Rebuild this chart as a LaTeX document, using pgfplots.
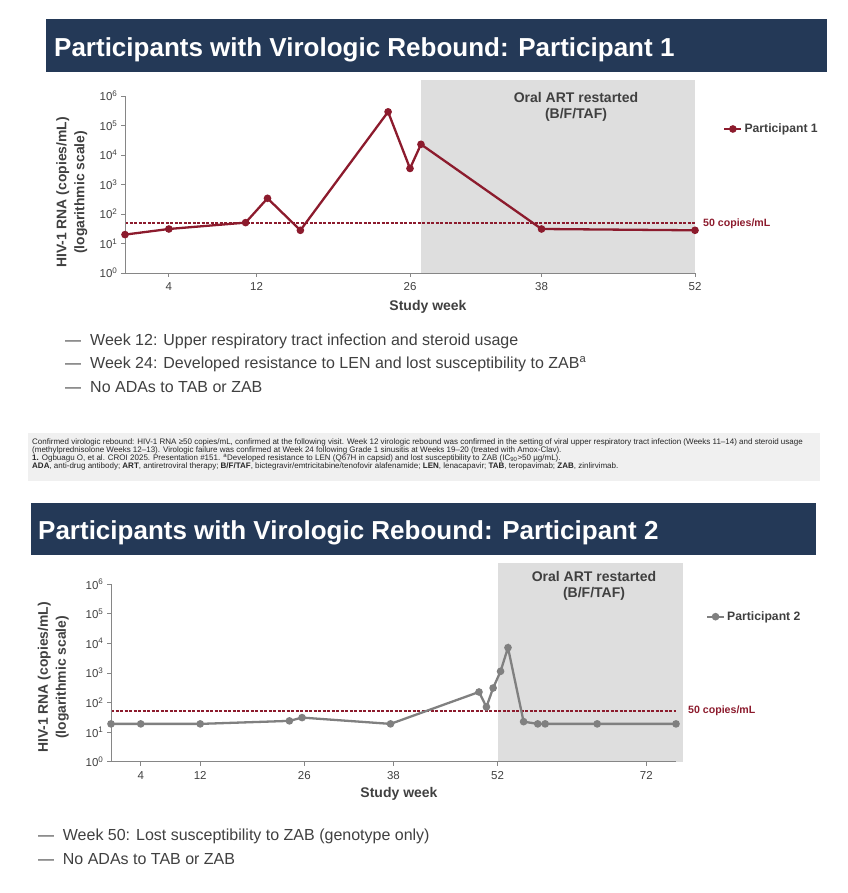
\documentclass[border=0pt]{standalone}
\usepackage{fontspec}
\setmainfont{Liberation Sans}
\usepackage{pgfplots}
\pgfplotsset{compat=1.18}
\definecolor{navy}{RGB}{36,57,87}
\definecolor{dred}{RGB}{140,27,45}
\definecolor{sgrey}{RGB}{128,128,128}
\definecolor{shade}{RGB}{222,222,222}
\definecolor{fbox}{RGB}{240,240,240}
\definecolor{txt}{RGB}{64,64,64}
\definecolor{axgrey}{RGB}{134,134,134}
\newcommand{\fsz}[1]{\fontsize{#1}{#1}\selectfont}
\begin{document}
\begin{tikzpicture}
\path[use as bounding box] (0,0) rectangle (847pt,893pt);
% ---------- Title 1
\fill[navy] (46pt,821pt) rectangle (827pt,873.7pt);
\node[anchor=base west, inner sep=0pt, text=white, font=\fsz{26}\bfseries] at (54pt,836.3pt) {Participants with Virologic Rebound: Participant 1};
% ---------- Axis 1
\begin{axis}[at={(125pt,620pt)}, anchor=south west, width=570pt, height=177pt,
  scale only axis, ymode=log, ymin=1, ymax=1e6, clip=false,
  axis x line=bottom, axis y line=left,
  axis line style={-, draw=axgrey, line width=0.9pt},
  tick style={draw=axgrey, line width=0.9pt},
  major tick length=4pt, tick align=outside,
  ytick={1,10,100,1000,10000,100000,1000000},
  yticklabels={10\textsuperscript{0},10\textsuperscript{1},10\textsuperscript{2},10\textsuperscript{3},10\textsuperscript{4},10\textsuperscript{5},10\textsuperscript{6}},
  yminorticks=false,
  tick label style={font=\fsz{11.5}, text=txt},
  xticklabel style={yshift=-2pt},
  axis on top,
  xmin=0, xmax=52, xtick={4,12,26,38,52}, xticklabels={4,12,26,38,52},
  legend style={at={(1.0491,0.8136)}, anchor=west, draw=none, fill=none, inner sep=0pt,
    font=\fsz{12.2}\bfseries, text=txt}]
\addplot[fill=shade, draw=none, forget plot] coordinates {(27,1) (27,3467000) (52,3467000) (52,1)} -- cycle;
\addplot[draw=dred, line width=1.6pt, dash pattern=on 3pt off 1.5pt, forget plot] coordinates {(0,50) (52,50)};
\addplot[color=dred, line width=2.3pt, mark=*, mark size=2.6pt, mark options={solid}] coordinates {
(0,20) (4,31) (11,51) (13,340) (16,28) (24,290000) (26,3500) (27,23000) (38,31) (52,28)};
\addlegendentry{Participant 1}
\end{axis}
\node[align=center, font=\fsz{14}\bfseries, text=txt, inner sep=0pt] at (576pt,786.3pt) {Oral ART restarted\\[1.5pt](B/F/TAF)};
\node[anchor=west, inner sep=0pt, font=\fsz{10.6}\bfseries, text=dred] at (703pt,669pt) {50 copies/mL};
\node[font=\fsz{14}\bfseries, text=txt, inner sep=0pt] at (428pt,586pt) {Study week};
\node[rotate=90, align=center, font=\fontsize{13.9}{18}\selectfont\bfseries, text=txt, inner sep=0pt] at (71.7pt,700.6pt) {HIV-1 RNA (copies/mL)\\(logarithmic scale)};
% ---------- Bullets 1
\node[anchor=base west, inner sep=0pt, font=\fsz{16}, text=txt] at (65pt,547.3pt) {—};
\node[anchor=base west, inner sep=0pt, font=\fsz{16}, text=txt] at (90pt,547.3pt) {Week 12: Upper respiratory tract infection and steroid usage};
\node[anchor=base west, inner sep=0pt, font=\fsz{16}, text=txt] at (65pt,524.3pt) {—};
\node[anchor=base west, inner sep=0pt, font=\fsz{16}, text=txt] at (90pt,524.3pt) {Week 24: Developed resistance to LEN and lost susceptibility to ZAB\textsuperscript{a}};
\node[anchor=base west, inner sep=0pt, font=\fsz{16}, text=txt] at (65pt,500.3pt) {—};
\node[anchor=base west, inner sep=0pt, font=\fsz{16}, text=txt] at (90pt,500.3pt) {No ADAs to TAB or ZAB};
% ---------- Footnote
\fill[fbox] (28pt,412pt) rectangle (820pt,460pt);
\node[anchor=base west, inner sep=0pt, font=\fsz{8}, text=black!85] at (32pt,448.6pt) {Confirmed virologic rebound: HIV-1 RNA ≥50 copies/mL, confirmed at the following visit. Week 12 virologic rebound was confirmed in the setting of viral upper respiratory tract infection (Weeks 11–14) and steroid usage};
\node[anchor=base west, inner sep=0pt, font=\fsz{8}, text=black!85] at (32pt,440.6pt) {(methylprednisolone Weeks 12–13). Virologic failure was confirmed at Week 24 following Grade 1 sinusitis at Weeks 19–20 (treated with Amox-Clav).};
\node[anchor=base west, inner sep=0pt, font=\fsz{8}, text=black!85] at (32pt,432.6pt) {\textbf{1.} Ogbuagu O, et al. CROI 2025. Presentation \#151. \textsuperscript{a}Developed resistance to LEN (Q67H in capsid) and lost susceptibility to ZAB (IC\textsubscript{90}>50 µg/mL).};
\node[anchor=base west, inner sep=0pt, font=\fsz{8}, text=black!85] at (32pt,424.6pt) {\textbf{ADA}, anti-drug antibody; \textbf{ART}, antiretroviral therapy; \textbf{B/F/TAF}, bictegravir/emtricitabine/tenofovir alafenamide; \textbf{LEN}, lenacapavir; \textbf{TAB}, teropavimab; \textbf{ZAB}, zinlirvimab.};
% ---------- Title 2
\fill[navy] (30.7pt,338pt) rectangle (816pt,390pt);
\node[anchor=base west, inner sep=0pt, text=white, font=\fsz{26}\bfseries] at (38pt,353pt) {Participants with Virologic Rebound: Participant 2};
% ---------- Axis 2
\begin{axis}[at={(111pt,131.3pt)}, anchor=south west, width=565pt, height=177.4pt,
  scale only axis, ymode=log, ymin=1, ymax=1e6, clip=false,
  axis x line=bottom, axis y line=left,
  axis line style={-, draw=axgrey, line width=0.9pt},
  tick style={draw=axgrey, line width=0.9pt},
  major tick length=4pt, tick align=outside,
  ytick={1,10,100,1000,10000,100000,1000000},
  yticklabels={10\textsuperscript{0},10\textsuperscript{1},10\textsuperscript{2},10\textsuperscript{3},10\textsuperscript{4},10\textsuperscript{5},10\textsuperscript{6}},
  yminorticks=false,
  tick label style={font=\fsz{11.5}, text=txt},
  xticklabel style={yshift=-2pt},
  axis on top,
  xmin=0, xmax=76, xtick={4,12,26,38,52,72}, xticklabels={4,12,26,38,52,72},
  legend style={at={(1.0525,0.8174)}, anchor=west, draw=none, fill=none, inner sep=0pt,
    font=\fsz{12.2}\bfseries, text=txt}]
\addplot[fill=shade, draw=none, forget plot] coordinates {(52,1) (52,5248000) (77,5248000) (77,1)} -- cycle;
\addplot[draw=dred, line width=1.7pt, dash pattern=on 3pt off 1.5pt, forget plot] coordinates {(0,50.5) (76,50.5)};
\addplot[color=sgrey, line width=2.3pt, mark=*, mark size=2.6pt, mark options={solid}] coordinates {
(0,19) (4,19) (12,19) (24,24) (25.7,31) (37.6,19) (49.5,228) (50.5,71) (51.4,311) (52.4,1140) (53.4,7200) (55.5,22.6) (57.4,19) (58.4,19) (65.4,19) (76,19)};
\addlegendentry{Participant 2}
\end{axis}
\node[align=center, font=\fsz{14}\bfseries, text=txt, inner sep=0pt] at (594pt,307pt) {Oral ART restarted\\[1.5pt](B/F/TAF)};
\node[anchor=west, inner sep=0pt, font=\fsz{10.6}\bfseries, text=dred] at (688pt,182.3pt) {50 copies/mL};
\node[font=\fsz{14}\bfseries, text=txt, inner sep=0pt] at (399pt,99pt) {Study week};
\node[rotate=90, align=center, font=\fontsize{13.9}{18}\selectfont\bfseries, text=txt, inner sep=0pt] at (53.3pt,215.6pt) {HIV-1 RNA (copies/mL)\\(logarithmic scale)};
% ---------- Bullets 2
\node[anchor=base west, inner sep=0pt, font=\fsz{16}, text=txt] at (38pt,52.3pt) {—};
\node[anchor=base west, inner sep=0pt, font=\fsz{16}, text=txt] at (62.7pt,52.3pt) {Week 50: Lost susceptibility to ZAB (genotype only)};
\node[anchor=base west, inner sep=0pt, font=\fsz{16}, text=txt] at (38pt,28.3pt) {—};
\node[anchor=base west, inner sep=0pt, font=\fsz{16}, text=txt] at (62.7pt,28.3pt) {No ADAs to TAB or ZAB};
\end{tikzpicture}
\end{document}
